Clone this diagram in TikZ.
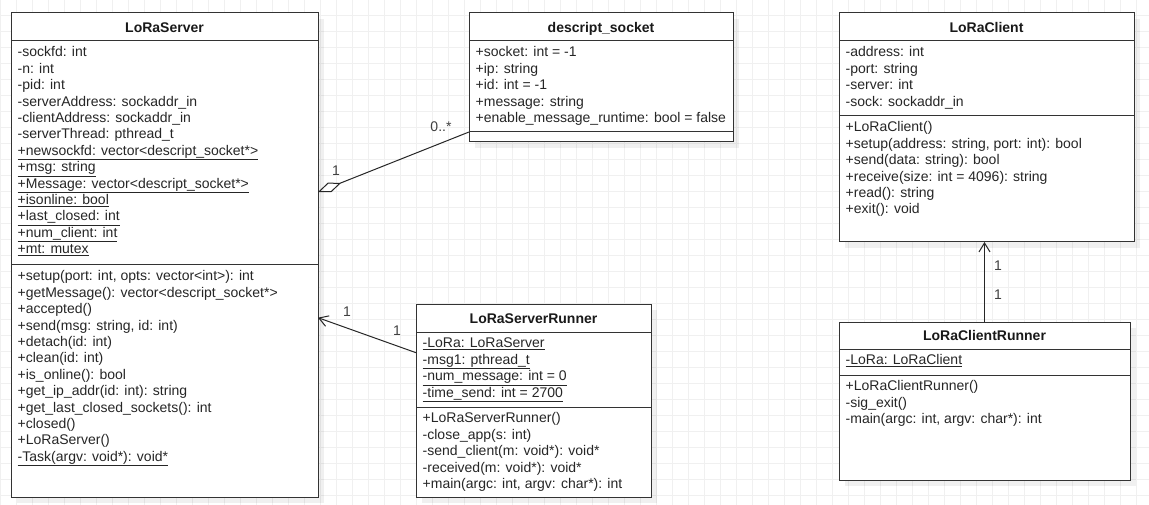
\documentclass[tikz,border=0pt]{standalone}
\usepackage{fontspec}
\setmainfont{Liberation Sans}
\usetikzlibrary{arrows.meta,calc,shadows}

\newcommand{\umlfont}{\fontsize{14pt}{16.4pt}\selectfont}

\tikzset{
  classbox/.style={draw=black!80, fill=white, line width=1pt, outer sep=0pt,
    inner sep=0pt, anchor=north west,
    drop shadow={shadow xshift=6pt, shadow yshift=-6pt, fill=black, opacity=0.06}},
  classname/.style={font=\umlfont\bfseries, text=black!90, inner sep=0pt,
    text height=10.6pt, text depth=0pt},
  members/.style={anchor=north west, align=left, inner xsep=6.5pt,
    inner ysep=4.2pt, font=\umlfont, text=black!85},
  sepline/.style={draw=black!80, line width=1pt},
  assoc/.style={draw=black!85, line width=1pt},
  mult/.style={font=\umlfont, text=black!75, inner sep=0pt},
  gridline/.style={draw=black!6, line width=1pt},
}

\begin{document}
\begin{tikzpicture}[x=1pt, y=-1pt]

  \useasboundingbox (0,0) rectangle (1149,505);
  \fill[white] (0,0) rectangle (1149,505);

  % background grid
  \foreach \gx in {0.7,16.7,...,1149} \draw[gridline] (\gx,0) -- (\gx,505);
  \foreach \gy in {15.3,31.3,...,505} \draw[gridline] (0,\gy) -- (1149,\gy);

  % LoRaServer
  \node[classbox, minimum width=307pt, minimum height=484pt] (server) at (11,13) {};
  \node[classname] (serverT) at ($(server.north)+(0,14)$) {LoRaServer};
  \draw[sepline] ($(server.north west)+(0,28)$) -- ($(server.north east)+(0,28)$);
  \draw[sepline] ($(server.north west)+(0,252)$) -- ($(server.north east)+(0,252)$);
  \node[members] (serverA) at ($(server.north west)+(0,28)$) {\strut-sockfd: int\\
    -n: int\\
    -pid: int\\
    -serverAddress: sockaddr\_in\\
    -clientAddress: sockaddr\_in\\
    -serverThread: pthread\_t\\
    \underline{+newsockfd: vector<descript\_socket*>}\\
    \underline{+msg: string}\\
    \underline{+Message: vector<descript\_socket*>}\\
    \underline{+isonline: bool}\\
    \underline{+last\_closed: int}\\
    \underline{+num\_client: int}\\
    \underline{+mt: mutex}};
  \node[members] (serverM) at ($(server.north west)+(0,252)$) {\strut+setup(port: int, opts: vector<int>): int\\
    +getMessage(): vector<descript\_socket*>\\
    +accepted()\\
    +send(msg: string, id: int)\\
    +detach(id: int)\\
    +clean(id: int)\\
    +is\_online(): bool\\
    +get\_ip\_addr(id: int): string\\
    +get\_last\_closed\_sockets(): int\\
    +closed()\\
    +LoRaServer()\\
    \underline{-Task(argv: void*): void*}};

  % descript_socket
  \node[classbox, minimum width=264pt, minimum height=129pt] (socket) at (469,13) {};
  \node[classname] (socketT) at ($(socket.north)+(0,14)$) {descript\_socket};
  \draw[sepline] ($(socket.north west)+(0,28)$) -- ($(socket.north east)+(0,28)$);
  \draw[sepline] ($(socket.north west)+(0,119)$) -- ($(socket.north east)+(0,119)$);
  \node[members] (socketA) at ($(socket.north west)+(0,28)$) {\strut+socket: int = -1\\
    +ip: string\\
    +id: int = -1\\
    +message: string\\
    +enable\_message\_runtime: bool = false};

  % LoRaServerRunner
  \node[classbox, minimum width=235pt, minimum height=193pt] (runner) at (416,304) {};
  \node[classname] (runnerT) at ($(runner.north)+(0,14)$) {LoRaServerRunner};
  \draw[sepline] ($(runner.north west)+(0,28)$) -- ($(runner.north east)+(0,28)$);
  \draw[sepline] ($(runner.north west)+(0,103)$) -- ($(runner.north east)+(0,103)$);
  \node[members] (runnerA) at ($(runner.north west)+(0,28)$) {\strut\underline{-LoRa: LoRaServer}\\
    \underline{-msg1: pthread\_t}\\
    \underline{-num\_message: int = 0}\\
    \underline{-time\_send: int = 2700}};
  \node[members] (runnerM) at ($(runner.north west)+(0,103)$) {\strut+LoRaServerRunner()\\
    -close\_app(s: int)\\
    -send\_client(m: void*): void*\\
    -received(m: void*): void*\\
    +main(argc: int, argv: char*): int};

  % LoRaClient
  \node[classbox, minimum width=295pt, minimum height=229pt] (client) at (839,13) {};
  \node[classname] (clientT) at ($(client.north)+(0,14)$) {LoRaClient};
  \draw[sepline] ($(client.north west)+(0,28)$) -- ($(client.north east)+(0,28)$);
  \draw[sepline] ($(client.north west)+(0,103)$) -- ($(client.north east)+(0,103)$);
  \node[members] (clientA) at ($(client.north west)+(0,28)$) {\strut-address: int\\
    -port: string\\
    -server: int\\
    -sock: sockaddr\_in};
  \node[members] (clientM) at ($(client.north west)+(0,103)$) {\strut+LoRaClient()\\
    +setup(address: string, port: int): bool\\
    +send(data: string): bool\\
    +receive(size: int = 4096): string\\
    +read(): string\\
    +exit(): void};

  % LoRaClientRunner
  \node[classbox, minimum width=291pt, minimum height=158pt] (clientR) at (839,322) {};
  \node[classname] (clientRT) at ($(clientR.north)+(0,13.5)$) {LoRaClientRunner};
  \draw[sepline] ($(clientR.north west)+(0,27)$) -- ($(clientR.north east)+(0,27)$);
  \draw[sepline] ($(clientR.north west)+(0,53)$) -- ($(clientR.north east)+(0,53)$);
  \node[members] (clientRA) at ($(clientR.north west)+(0,27)$) {\strut\underline{-LoRa: LoRaClient}};
  \node[members] (clientRM) at ($(clientR.north west)+(0,53)$) {\strut+LoRaClientRunner()\\
    -sig\_exit()\\
    -main(argc: int, argv: char*): int};

  % connectors
  \draw[assoc, {Diamond[open, length=25pt, width=10pt]}-]
    ($(server.north east)+(0,179)$) -- ($(socket.north west)+(0,119)$);
  \draw[assoc, -{Straight Barb[length=9pt, width=11pt]}]
    ($(runner.north west)+(0,48.7)$) -- ($(server.north east)+(0,304.7)$);
  \draw[assoc, -{Straight Barb[length=9pt, width=11pt]}]
    (clientR.north) -- (clientR.north |- client.south);

  % multiplicities
  \node[mult] (aggS) at (336,171) {1};
  \node[mult] (aggT) at (441,127) {0..*};
  \node[mult] (runS) at (347,312) {1};
  \node[mult] (runT) at (397,331) {1};
  \node[mult] (cliS) at (998,266) {1};
  \node[mult] (cliT) at (998,295) {1};

\end{tikzpicture}
\end{document}
